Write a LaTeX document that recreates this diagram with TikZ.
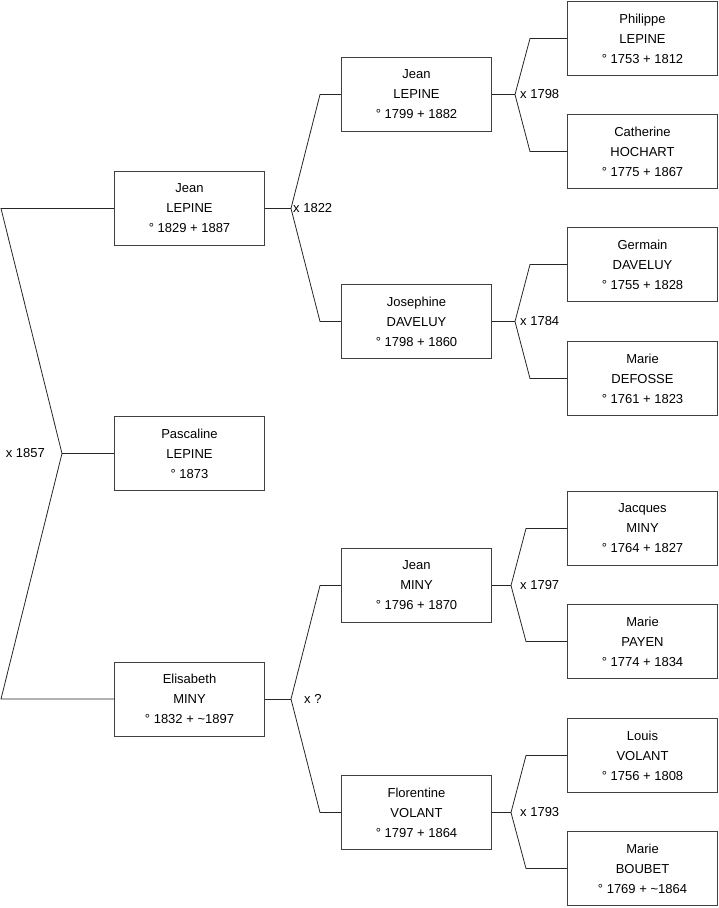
\documentclass[tikz,border=0pt]{standalone}
\usepackage{fontspec}
\setmainfont{Liberation Sans}
\begin{document}
\begin{tikzpicture}[x=1pt,y=-1pt,
  person/.style={draw=black!75, line width=1pt, minimum width=150pt, minimum height=74pt,
    inner sep=0pt, align=center, font=\fontsize{13}{20}\selectfont},
  link/.style={draw=black!85, line width=0.8pt},
  marr/.style={inner sep=0pt, font=\fontsize{13}{16}\selectfont}]
\useasboundingbox (0,0) rectangle (719,908);
% generation 1
\node[person] (c1) at (189.5,208.5) {Jean\\LEPINE\\° 1829 + 1887};
\node[person] (c2) at (189.5,453.5) {Pascaline\\LEPINE\\° 1873};
\node[person] (c3) at (189.5,699) {Elisabeth\\MINY\\° 1832 + \textasciitilde1897};
% generation 2
\node[person] (b1) at (416.5,94.5) {Jean\\LEPINE\\° 1799 + 1882};
\node[person] (b2) at (416.5,321.5) {Josephine\\DAVELUY\\° 1798 + 1860};
\node[person] (b3) at (416.5,585.5) {Jean\\MINY\\° 1796 + 1870};
\node[person] (b4) at (416.5,812.5) {Florentine\\VOLANT\\° 1797 + 1864};
% generation 3
\node[person] (a1) at (642.5,38.5) {Philippe\\LEPINE\\° 1753 + 1812};
\node[person] (a2) at (642.5,151.5) {Catherine\\HOCHART\\° 1775 + 1867};
\node[person] (a3) at (642.5,264.5) {Germain\\DAVELUY\\° 1755 + 1828};
\node[person] (a4) at (642.5,378.5) {Marie\\DEFOSSE\\° 1761 + 1823};
\node[person] (a5) at (642.5,528.5) {Jacques\\MINY\\° 1764 + 1827};
\node[person] (a6) at (642.5,641.5) {Marie\\PAYEN\\° 1774 + 1834};
\node[person] (a7) at (642.5,755.5) {Louis\\VOLANT\\° 1756 + 1808};
\node[person] (a8) at (642.5,868.5) {Marie\\BOUBET\\° 1769 + \textasciitilde1864};
% junction points
\coordinate (m0) at (62,453.5);
\coordinate (L1) at (1,208.5);
\coordinate (L2) at (1,699);
\coordinate (m1) at (291,208.5);
\coordinate (m2) at (515,94.5);
\coordinate (m3) at (515,321.5);
\coordinate (m4) at (291,699);
\coordinate (m5) at (511,585.5);
\coordinate (m6) at (511,812.5);
% left bracket
\draw[link] (c1.west) -- (L1) -- (m0) -- (L2) -- (c3.west);
\draw[link] (m0) -- (c2.west);
\node[marr, anchor=east] (l0) at ([xshift=-17pt]m0) {x 1857};
% marriages
\draw[link] (b1.west) -- ([xshift=-21pt]b1.west) -- (m1) -- ([xshift=-21pt]b2.west) -- (b2.west);
\draw[link] (c1.east) -- (m1);
\node[marr, anchor=west] (l1) at ([xshift=2pt]m1) {x 1822};
\draw[link] (a1.west) -- ([xshift=-37pt]a1.west) -- (m2) -- ([xshift=-37pt]a2.west) -- (a2.west);
\draw[link] (b1.east) -- (m2);
\node[marr, anchor=west] (l2) at ([xshift=5pt]m2) {x 1798};
\draw[link] (a3.west) -- ([xshift=-37pt]a3.west) -- (m3) -- ([xshift=-37pt]a4.west) -- (a4.west);
\draw[link] (b2.east) -- (m3);
\node[marr, anchor=west] (l3) at ([xshift=5pt]m3) {x 1784};
\draw[link] (b3.west) -- ([xshift=-21pt]b3.west) -- (m4) -- ([xshift=-21pt]b4.west) -- (b4.west);
\draw[link] (c3.east) -- (m4);
\node[marr, anchor=west] (l4) at ([xshift=13pt]m4) {x ?};
\draw[link] (a5.west) -- ([xshift=-41pt]a5.west) -- (m5) -- ([xshift=-41pt]a6.west) -- (a6.west);
\draw[link] (b3.east) -- (m5);
\node[marr, anchor=west] (l5) at ([xshift=9pt]m5) {x 1797};
\draw[link] (a7.west) -- ([xshift=-41pt]a7.west) -- (m6) -- ([xshift=-41pt]a8.west) -- (a8.west);
\draw[link] (b4.east) -- (m6);
\node[marr, anchor=west] (l6) at ([xshift=9pt]m6) {x 1793};
\end{tikzpicture}
\end{document}
